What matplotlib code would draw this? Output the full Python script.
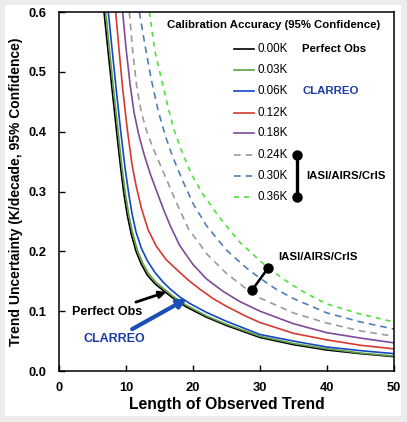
import matplotlib
matplotlib.use('Agg')
import matplotlib.pyplot as plt
from matplotlib.patches import Rectangle

plt.rcParams['font.family'] = ['Liberation Sans', 'DejaVu Sans']

# values, one (x, y) set per calibration accuracy
x_000 = [6.72, 7.3, 7.9, 8.6, 9.2, 9.7, 10.2, 10.8, 11.5, 12.3, 13.2, 14.3, 15.5, 17.0, 19.0, 22.0, 25.0, 30.0, 35.0, 40.0, 45.0, 50.0]
y_000 = [0.600, 0.537, 0.473, 0.400, 0.340, 0.295, 0.260, 0.228, 0.200, 0.178, 0.160, 0.146, 0.135, 0.122, 0.107, 0.090, 0.076, 0.056, 0.044, 0.035, 0.029, 0.024]
x_003 = [6.97, 7.5, 8.1, 8.8, 9.4, 9.9, 10.4, 11.0, 11.7, 12.5, 13.4, 14.5, 15.8, 17.0, 19.0, 22.0, 25.0, 30.0, 35.0, 40.0, 45.0, 50.0]
y_003 = [0.600, 0.540, 0.475, 0.402, 0.340, 0.297, 0.262, 0.230, 0.202, 0.180, 0.162, 0.148, 0.136, 0.125, 0.110, 0.092, 0.078, 0.058, 0.046, 0.037, 0.030, 0.025]
x_006 = [7.36, 7.9, 8.5, 9.2, 9.85, 10.4, 10.9, 11.5, 12.3, 13.2, 14.3, 15.5, 16.7, 18.0, 19.5, 22.0, 25.0, 30.0, 35.0, 40.0, 45.0, 50.0]
y_006 = [0.600, 0.540, 0.475, 0.402, 0.340, 0.297, 0.263, 0.232, 0.205, 0.184, 0.165, 0.149, 0.136, 0.124, 0.113, 0.098, 0.083, 0.061, 0.050, 0.040, 0.034, 0.029]
x_012 = [8.46, 9.0, 9.5, 10.2, 10.9, 11.5, 12.3, 13.3, 14.5, 16.0, 18.0, 19.5, 21.0, 23.0, 25.0, 28.0, 30.0, 35.0, 40.0, 45.0, 50.0]
y_012 = [0.600, 0.532, 0.472, 0.403, 0.345, 0.310, 0.272, 0.236, 0.209, 0.186, 0.165, 0.150, 0.137, 0.121, 0.108, 0.091, 0.081, 0.063, 0.052, 0.043, 0.037]
x_018 = [9.5, 10.0, 10.6, 11.2, 11.9, 12.7, 13.6, 14.6, 15.6, 16.6, 18.0, 20.0, 22.0, 24.5, 27.0, 30.0, 35.0, 40.0, 45.0, 50.0]
y_018 = [0.600, 0.540, 0.480, 0.432, 0.395, 0.362, 0.330, 0.300, 0.270, 0.243, 0.210, 0.178, 0.154, 0.133, 0.116, 0.100, 0.079, 0.064, 0.055, 0.047]
x_024 = [10.5, 11.0, 11.6, 12.3, 13.1, 14.2, 15.6, 17.3, 19.3, 22.2, 25.0, 28.0, 30.0, 35.0, 40.0, 45.0, 50.0]
y_024 = [0.600, 0.535, 0.475, 0.432, 0.400, 0.368, 0.332, 0.287, 0.238, 0.194, 0.163, 0.137, 0.122, 0.097, 0.080, 0.067, 0.058]
x_030 = [12.0, 12.9, 13.8, 14.8, 15.9, 17.0, 18.3, 20.0, 22.0, 25.0, 28.0, 30.0, 32.5, 35.0, 40.0, 45.0, 50.0]
y_030 = [0.600, 0.540, 0.486, 0.435, 0.392, 0.357, 0.322, 0.280, 0.243, 0.202, 0.172, 0.155, 0.136, 0.121, 0.097, 0.082, 0.070]
x_036 = [13.5, 14.3, 15.5, 16.3, 17.1, 18.3, 19.7, 21.5, 24.0, 27.0, 31.2, 34.5, 37.0, 40.0, 45.0, 50.0]
y_036 = [0.600, 0.535, 0.478, 0.440, 0.405, 0.368, 0.330, 0.295, 0.256, 0.215, 0.172, 0.146, 0.129, 0.112, 0.095, 0.082]

labels = ['0.00K', '0.03K', '0.06K', '0.12K', '0.18K', '0.24K', '0.30K', '0.36K']
xs = [x_000, x_003, x_006, x_012, x_018, x_024, x_030, x_036]
ys = [y_000, y_003, y_006, y_012, y_018, y_024, y_030, y_036]
colors = ['black', '#5f9e45', '#1447c4', '#d63a2f', '#7d4b9c', '#9a9a9a', '#4f7fb8', '#4fe03a']
styles = ['-', '-', '-', '-', '-', (0, (4, 3)), (0, (4, 3)), (0, (3, 3))]

fig = plt.figure(figsize=(4.07, 4.22), dpi=100, facecolor='#ececec')
bg = Rectangle((5 / 407, 6 / 422), 396 / 407, 411 / 422,
               transform=fig.transFigure, facecolor='white',
               edgecolor='none', zorder=-10)
fig.patches.append(bg)
ax = fig.add_axes([59 / 407, 51 / 422, 335 / 407, 359 / 422])
ax.set_zorder(5)

for x, y, c, s in zip(xs, ys, colors, styles):
    ax.plot(x, y, color=c, linestyle=s, linewidth=1.2)

ax.set_xlim(0, 50)
ax.set_ylim(0, 0.6)
ax.set_xticks([0, 10, 20, 30, 40, 50])
ax.set_yticks([0.0, 0.1, 0.2, 0.3, 0.4, 0.5, 0.6])
ax.set_yticklabels(['0.0', '0.1', '0.2', '0.3', '0.4', '0.5', '0.6'])
ax.tick_params(direction='in', length=4, width=1, labelsize=9.3)
ax.tick_params(axis='x', pad=8)
ax.tick_params(axis='y', pad=9)
for t in ax.get_xticklabels() + ax.get_yticklabels():
    t.set_fontweight('bold')
for sp in ax.spines.values():
    sp.set_linewidth(1.1)
ax.set_xlabel('Length of Observed Trend', fontsize=11.3, fontweight='bold', labelpad=2)
ax.set_ylabel('Trend Uncertainty (K/decade, 95% Confidence)', fontsize=10,
              fontweight='bold', labelpad=4)

# hand made legend
ax.text(32.0, 0.578, 'Calibration Accuracy (95% Confidence)', fontsize=8.2,
        fontweight='bold', ha='center', va='center')
leg_y = [0.538, 0.503, 0.468, 0.431, 0.398, 0.361, 0.326, 0.291]
for ly, lab, c, s in zip(leg_y, labels, colors, styles):
    ax.plot([26.1, 29.1], [ly, ly], color=c, linestyle=s, linewidth=1.2)
    ax.text(29.6, ly, lab, fontsize=8.4, va='center', ha='left')
ax.text(36.3, 0.538, 'Perfect Obs', fontsize=8.2, fontweight='bold', va='center')
ax.text(36.3, 0.468, 'CLARREO', fontsize=8.2, fontweight='bold', va='center', color='#1c3ca8')
ax.plot([35.5, 35.5], [0.361, 0.291], color='black', linewidth=2.4,
        marker='o', markersize=6.5)
ax.text(36.9, 0.326, 'IASI/AIRS/CrIS', fontsize=8.2, fontweight='bold', va='center')

# annotations on the curves
ax.plot([28.8, 31.2], [0.135, 0.172], color='black', linewidth=1.8,
        marker='o', markersize=6.5)
ax.text(32.7, 0.191, 'IASI/AIRS/CrIS', fontsize=8.2, fontweight='bold', va='center')
ax.annotate('Perfect Obs', xy=(16.0, 0.132), xytext=(1.9, 0.099),
            fontsize=9, fontweight='bold', va='center',
            arrowprops=dict(arrowstyle='-|>', color='black', lw=2,
                            mutation_scale=10, shrinkA=2, shrinkB=0))
ax.annotate('CLARREO', xy=(19.1, 0.121), xytext=(3.6, 0.053),
            fontsize=9, fontweight='bold', va='center', color='#1c3ca8',
            arrowprops=dict(arrowstyle='-|>', color='#1a4fb5', lw=3,
                            mutation_scale=13, shrinkA=2, shrinkB=0))

plt.savefig('out.png', dpi=100, facecolor=fig.get_facecolor())
